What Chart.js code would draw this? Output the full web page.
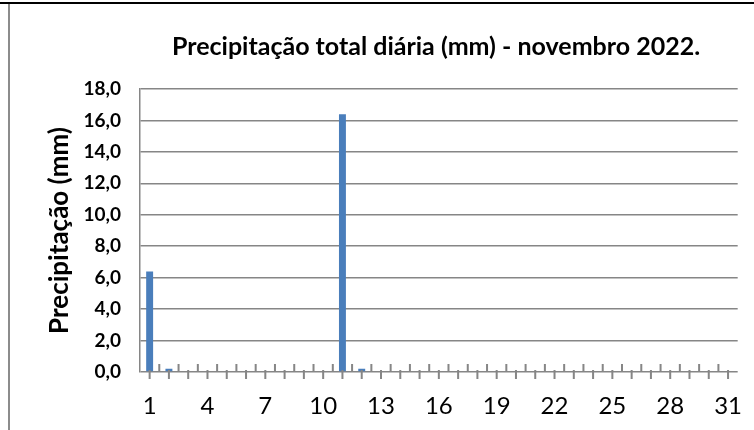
<!DOCTYPE html>
<html>
<head>
<meta charset="utf-8">
<script src="https://cdn.jsdelivr.net/npm/chart.js@4"></script>
<style>
body{margin:0;background:#fff;}
#wrap{position:relative;width:754px;height:430px;overflow:hidden;}
#topline{position:absolute;left:0;top:2px;width:754px;height:2px;background:#000;}
#leftline{position:absolute;left:8px;top:4px;width:2px;height:426px;background:#8c8c8c;}
canvas{position:absolute;left:0;top:0;}
</style>
</head>
<body>
<div id="wrap">
<canvas id="chart" width="754" height="430"></canvas>
<div id="topline"></div>
<div id="leftline"></div>
</div>
<script>
const days = [];
for(let d=1; d<=31; d++){ days.push(String(d)); }

const rain = [6.4,0.2,0,0,0,0,0,0,0,0,16.4,0.2,0,0,0,0,0,0,0,0,0,0,0,0,0,0,0,0,0,0,0];

const yTicks = [0,2,4,6,8,10,12,14,16,18];

const FONT = "Lato, 'Open Sans', sans-serif";

/* tick marks like the excel axis: short ones between days, long ones on each day */
const dayTicks = {
id:"dayTicks",
afterLayout(chart){
// center the title over the plot instead of the whole canvas
chart.titleBlock.left = 120;
},
afterDraw(chart){
const x = chart.scales.x;
const bottom = chart.chartArea.bottom;
const ctx = chart.ctx;
ctx.save();
ctx.strokeStyle = "#868686";
ctx.lineWidth = 2;
ctx.beginPath();
for(let i=0;i<days.length;i++){
let c = x.getPixelForValue(i);
ctx.moveTo(c, bottom-2);
ctx.lineTo(c, bottom+7);
if(i<days.length-1){
let b = (c + x.getPixelForValue(i+1))/2;
ctx.moveTo(b, bottom-8);
ctx.lineTo(b, bottom);
}
}
ctx.stroke();
ctx.restore();
}
};

new Chart(document.getElementById("chart").getContext("2d"),{
type:"bar",
data:{
labels:days,
datasets:[{
label:"Precipitação",
data:rain,
backgroundColor:"#4a7ebb",
borderWidth:0,
barPercentage:0.36,
categoryPercentage:1
}]
},
plugins:[dayTicks],
options:{
responsive:false,
animation:false,
layout:{padding:{left:0,right:2,top:0,bottom:0}},
plugins:{
legend:{display:false},
tooltip:{enabled:false},
title:{
display:true,
text:"Precipitação total diária (mm) - novembro 2022.",
color:"#000",
font:{family:FONT,size:25,weight:"bold"},
padding:{top:32,bottom:27}
}
},
scales:{
x:{
offset:true,
grid:{display:false},
border:{display:false},
ticks:{
autoSkip:false,
maxRotation:0,
color:"#000",
padding:12,
font:{family:FONT,size:24},
callback:function(v,i){ return i%3===0 ? days[i] : ""; }
},
afterFit:function(s){ s.height = 58; }
},
y:{
min:0,
max:18,
afterBuildTicks:function(s){ s.ticks = yTicks.map(v=>({value:v})); },
grid:{color:"#868686",lineWidth:1.5,drawTicks:false},
border:{display:true,color:"#868686",width:1.5},
ticks:{
color:"#000",
padding:19,
font:{family:FONT,size:19,weight:"bold"},
callback:function(v){ return v.toFixed(1).replace(".",","); }
},
title:{
display:true,
text:"Precipitação (mm)",
color:"#000",
font:{family:FONT,size:26,weight:"bold"},
padding:{top:44,bottom:0}
},
afterFit:function(s){ s.width = 140; }
}
}
}
});
</script>
</body>
</html>
